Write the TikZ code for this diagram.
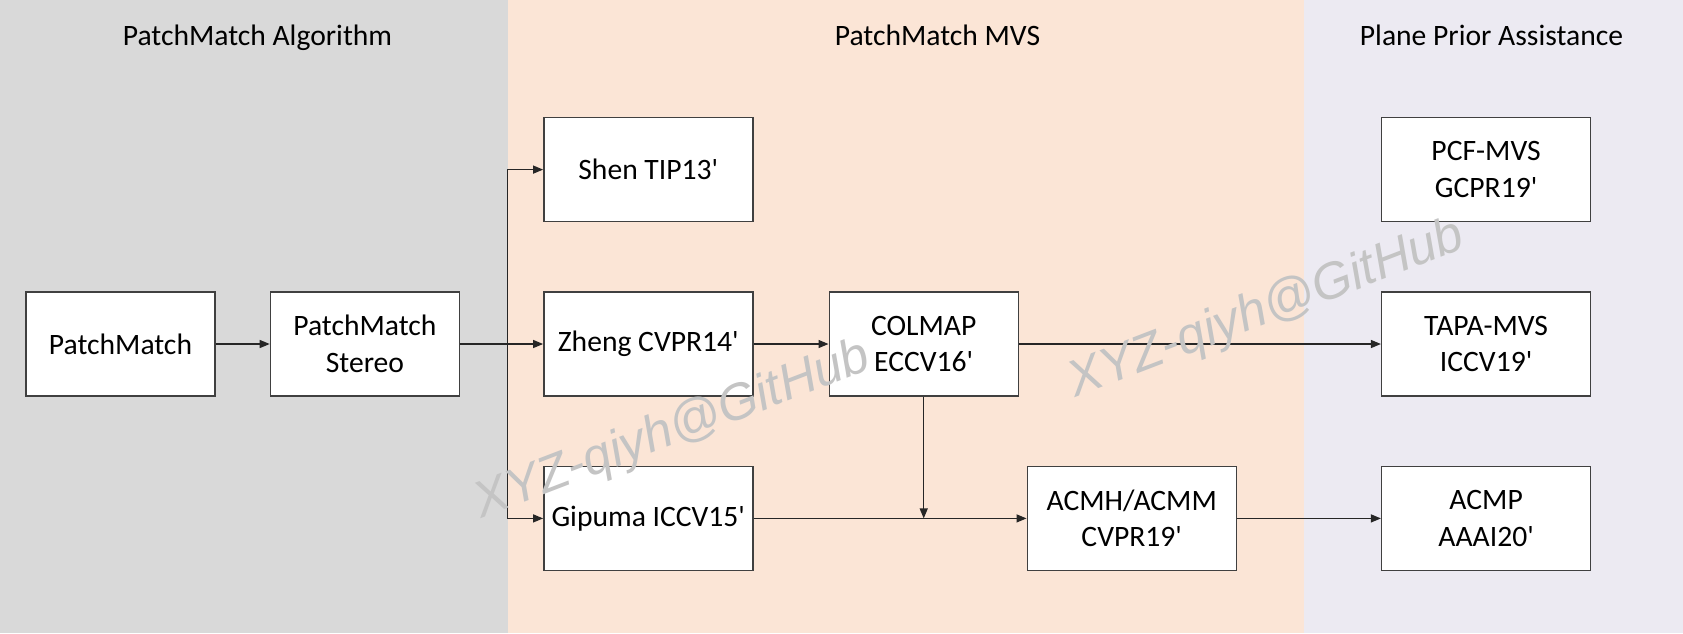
\documentclass[tikz,border=0pt]{standalone}
\usepackage{fontspec}
\setmainfont{Carlito}[Ligatures=TeXOff]
\newfontfamily\wmfont{Liberation Sans}
\usetikzlibrary{arrows.meta,positioning,backgrounds}
\definecolor{algogray}{RGB}{217,217,217}
\definecolor{mvspeach}{RGB}{251,229,214}
\definecolor{planelav}{RGB}{236,234,242}
\definecolor{boxline}{RGB}{64,64,64}
\definecolor{wmgray}{RGB}{196,196,196}
\tikzset{
  basebox/.style={rectangle,draw=boxline,line width=0.8pt,fill=white,align=center,
    minimum height=2.08cm,inner sep=2pt,font=\fontsize{16.85}{20.8}\selectfont},
  mbox/.style={basebox,minimum width=3.78cm},
  wbox/.style={basebox,minimum width=4.18cm},
  panel/.style={rectangle,draw=none,anchor=north west,minimum height=12.66cm,inner sep=0pt},
  titlenode/.style={anchor=base,inner sep=0pt,font=\fontsize{16.85}{20.8}\selectfont},
  arr/.style={-{Triangle[length=0.2cm,width=0.16cm]},line width=0.7pt,color=black!85},
  wmark/.style={anchor=base west,rotate=21,inner sep=0pt,text=wmgray,
    font=\wmfont\itshape\fontsize{29}{32}\selectfont}
}

\begin{document}
\begin{tikzpicture}[node distance=1.38cm and 1.5cm]
  \useasboundingbox (0,0) rectangle (33.66,-12.66);

  %% Column panels
  \node[panel,fill=algogray,minimum width=10.16cm] (algo) at (0,0) {};
  \node[panel,fill=mvspeach,minimum width=15.92cm] (mvs) at (10.16,0) {};
  \node[panel,fill=planelav,minimum width=7.58cm] (plane) at (26.08,0) {};

  %% Panel titles
  \node[titlenode] (algotitle) at (5.15,-0.9) {PatchMatch Algorithm};
  \node[titlenode] (mvstitle) at (18.75,-0.9) {PatchMatch MVS};
  \node[titlenode] (planetitle) at (29.83,-0.9) {Plane Prior Assistance};

  %% PatchMatch algorithm
  \node[mbox] (pm) at (2.41,-6.88) {PatchMatch};
  \node[mbox,right=1.08cm of pm] (pms) {PatchMatch\\Stereo};

  %% PatchMatch MVS
  \node[wbox,right=1.66cm of pms] (zheng) {Zheng CVPR14'};
  \node[wbox,above=of zheng] (shen) {Shen TIP13'};
  \node[wbox,below=of zheng] (gipuma) {Gipuma ICCV15'};
  \node[mbox,right=of zheng] (colmap) {COLMAP\\ECCV16'};
  \node[wbox,right=5.46cm of gipuma] (acmh) {ACMH/ACMM\\CVPR19'};

  %% Plane prior assistance
  \node[wbox,right=7.24cm of colmap] (tapa) {TAPA-MVS\\ICCV19'};
  \node[wbox,above=of tapa] (pcf) {PCF-MVS\\GCPR19'};
  \node[wbox,below=of tapa] (acmp) {ACMP\\AAAI20'};

  %% ── ARROWS ──────────────────────────────────────────────
  \draw[arr] (pm.east) -- (pms.west);
  \draw[arr] (pms.east) -- (zheng.west);
  \draw[arr] (pms.east) -- ++(0.94,0) |- (shen.west);
  \draw[arr] (pms.east) -- ++(0.94,0) |- (gipuma.west);
  \draw[arr] (zheng.east) -- (colmap.west);
  \draw[arr] (colmap.east) -- (tapa.west);
  \draw[arr] (gipuma.east) -- (acmh.west);
  \draw[arr] (colmap.south) -- (colmap.south |- gipuma.east);
  \draw[arr] (acmh.east) -- (acmp.west);

  %% Watermarks
  \node[wmark] (wm1) at (9.62,-10.38) {XYZ-qiyh@GitHub};
  \node[wmark] (wm2) at (21.5,-7.96) {XYZ-qiyh@GitHub};

\end{tikzpicture}
\end{document}
